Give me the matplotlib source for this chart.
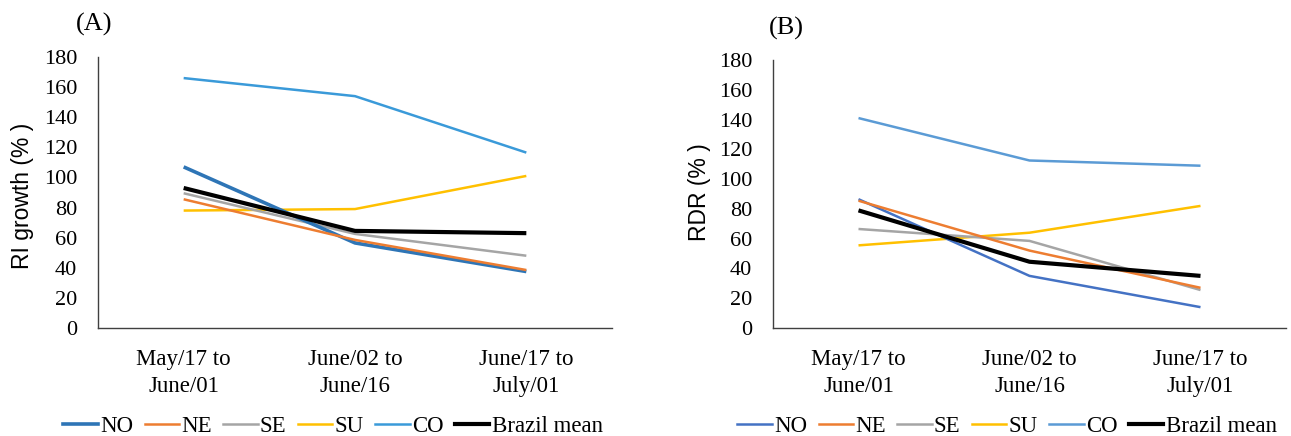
import matplotlib
matplotlib.use("Agg")
import matplotlib.pyplot as plt
from matplotlib.lines import Line2D

categories = ["May/17 to\nJune/01", "June/02 to\nJune/16", "June/17 to\nJuly/01"]
series_names = ["NO", "NE", "SE", "SU", "CO", "Brazil mean"]

ri_NO = [107.0, 56.5, 37.5]
ri_NE = [85.5, 58.5, 38.5]
ri_SE = [89.5, 62.5, 48.0]
ri_SU = [78.0, 79.0, 101.0]
ri_CO = [166.0, 154.0, 116.5]
ri_BR = [93.0, 64.5, 63.0]

rdr_NO = [86.5, 35.0, 14.0]
rdr_NE = [85.5, 52.0, 27.0]
rdr_SE = [66.5, 58.5, 25.5]
rdr_SU = [55.5, 64.0, 82.0]
rdr_CO = [141.0, 112.5, 109.0]
rdr_BR = [79.0, 44.5, 35.0]

yticks = list(range(0, 181, 20))

SERIF = "Liberation Serif"
SANS = "Liberation Sans"
W, H = 1291, 436

fig = plt.figure(figsize=(12.91, 4.36), dpi=100)
axA = fig.add_axes([98/W, 1-328/H, 514/W, 271/H])
axB = fig.add_axes([773/W, 1-328/H, 513/W, 268/H])

styleA = {
    "NO": dict(color="#2E75B6", lw=2.6),
    "NE": dict(color="#ED7D31", lw=1.8),
    "SE": dict(color="#A5A5A5", lw=1.8),
    "SU": dict(color="#FFC000", lw=1.8),
    "CO": dict(color="#3A9AD9", lw=1.8),
    "Brazil mean": dict(color="#000000", lw=3.0),
}
styleB = {
    "NO": dict(color="#4472C4", lw=1.8),
    "NE": dict(color="#ED7D31", lw=1.8),
    "SE": dict(color="#A5A5A5", lw=1.8),
    "SU": dict(color="#FFC000", lw=1.8),
    "CO": dict(color="#5B9BD5", lw=1.8),
    "Brazil mean": dict(color="#000000", lw=3.0),
}

dataA = [ri_NO, ri_NE, ri_SE, ri_SU, ri_CO, ri_BR]
dataB = [rdr_NO, rdr_NE, rdr_SE, rdr_SU, rdr_CO, rdr_BR]

def draw(ax, data, style, ylabel, ylabel_xy, panel, panel_xy, legend_center):
    xs = list(range(len(categories)))
    order = [4, 3, 2, 0, 1, 5]
    for i in order:
        name = series_names[i]
        ax.plot(xs, data[i], solid_capstyle="butt", **style[name])
    ax.set_xlim(-0.5, len(categories) - 0.5)
    ax.set_ylim(0, 180)
    ax.set_yticks(yticks)
    ax.set_yticklabels([str(t) for t in yticks], fontfamily=SERIF, fontsize=16)
    ax.set_xticks(xs)
    ax.set_xticklabels(categories, fontfamily=SERIF, fontsize=16.5, linespacing=1.4)
    ax.tick_params(axis="both", length=0)
    ax.tick_params(axis="y", pad=15)
    ax.tick_params(axis="x", pad=15)
    for s in ["top", "right"]:
        ax.spines[s].set_visible(False)
    for s in ["left", "bottom"]:
        ax.spines[s].set_color("#404040")
        ax.spines[s].set_linewidth(1.0)
    fig.text(ylabel_xy[0], ylabel_xy[1], ylabel, fontfamily=SANS, fontsize=16.5,
             rotation=90, ha="center", va="center")
    fig.text(panel_xy[0], panel_xy[1], panel, fontfamily=SERIF, fontsize=19,
             ha="left", va="center")
    handles = [Line2D([0], [0], **style[n]) for n in series_names]
    fig.legend(handles, series_names, loc="center", ncol=6,
               bbox_to_anchor=legend_center, frameon=False,
               prop={"family": SERIF, "size": 16.5},
               handlelength=1.5, handletextpad=0.1, columnspacing=0.5)

draw(axA, dataA, styleA, "RI growth (% )", (23/W, 1-196/H), "(A)",
     (76/W, 1-24/H), (333/W, 1-426/H))
draw(axB, dataB, styleB, "RDR (% )", (700/W, 1-192/H), "(B)",
     (769/W, 1-28/H), (1007/W, 1-426/H))

fig.savefig("out.png", dpi=100)
